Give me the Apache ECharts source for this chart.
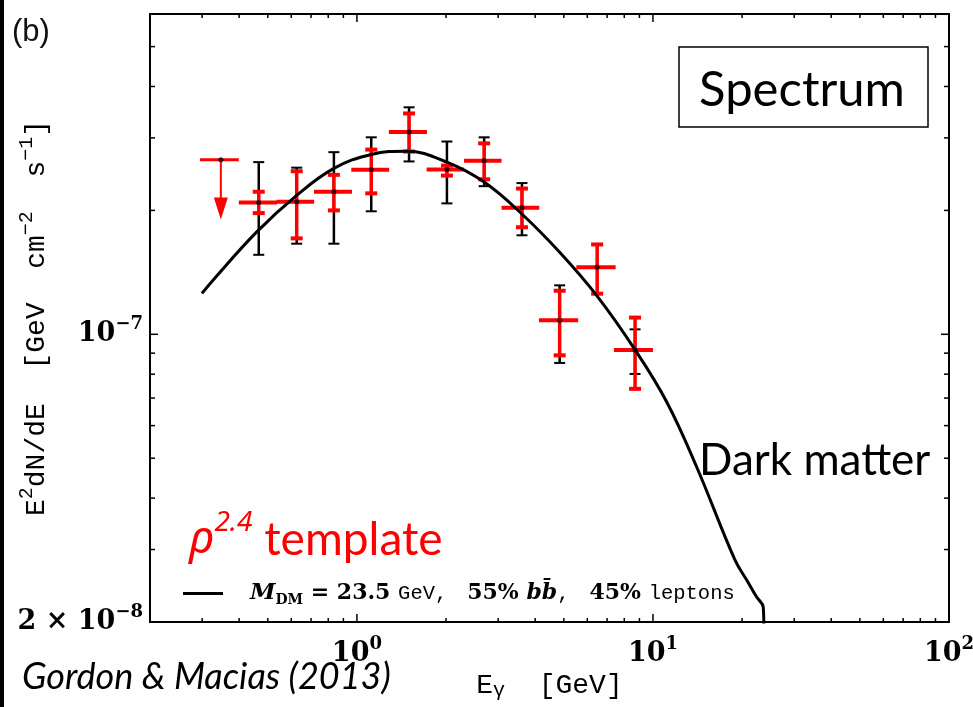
<!DOCTYPE html>
<html>
<head>
<meta charset="utf-8">
<script src="https://cdn.jsdelivr.net/npm/echarts@6/dist/echarts.min.js"></script>
<style>
html, body { margin: 0; padding: 0; background: #fff; }
#main { width: 973px; height: 707px; }
</style>
</head>
<body>
<div id="main"></div>
<script>
// measured points, E [GeV] and E^2 dN/dE [GeV cm^-2 s^-1]
var ptE = [0.466, 0.626, 0.836, 1.118, 1.50, 2.014, 2.69, 3.61, 4.84, 6.48, 8.70];
var ptFlux = [2.09e-7, 2.10e-7, 2.22e-7, 2.51e-7, 3.10e-7, 2.515e-7, 2.64e-7, 2.03e-7, 1.081e-7, 1.455e-7, 9.16e-8];
// energy bins (red horizontal bars)
var binLo = [0.399, 0.535, 0.716, 0.957, 1.282, 1.72, 2.30, 3.08, 4.12, 5.51, 7.38];
var binHi = [0.537, 0.717, 0.962, 1.285, 1.724, 2.304, 3.08, 4.13, 5.59, 7.48, 10.0];
// red error bars
var redLo = [1.97e-7, 1.71e-7, 2.00e-7, 2.20e-7, 2.78e-7, 2.43e-7, 2.38e-7, 1.82e-7, 8.89e-8, 1.255e-7, 7.37e-8];
var redHi = [2.22e-7, 2.49e-7, 2.44e-7, 2.81e-7, 3.44e-7, 2.57e-7, 2.91e-7, 2.26e-7, 1.276e-7, 1.653e-7, 1.098e-7];
// black error bars
var blackLo = [1.56e-7, 1.66e-7, 1.66e-7, 1.99e-7, 2.63e-7, 2.08e-7, 2.29e-7, 1.74e-7, 8.52e-8, 1.255e-7, 8.01e-8];
var blackHi = [2.62e-7, 2.54e-7, 2.77e-7, 3.01e-7, 3.56e-7, 2.94e-7, 3.01e-7, 2.33e-7, 1.315e-7, 1.653e-7, 1.028e-7];

// upper limit in the first bin
var ulE = [0.347];
var ulFlux = [2.655e-7];
var ulBinLo = [0.295];
var ulBinHi = [0.399];
var ulTip = [1.90e-7];

// dark matter model curve
var dmE = [0.2995, 0.326, 0.458, 0.626, 0.836, 1.118, 1.472, 2.014, 2.69, 3.60, 4.85, 6.45, 8.69, 11.13, 14.05, 18.92, 20.73, 22.4, 23.59, 23.7];
var dmFlux = [1.257e-7, 1.352e-7, 1.771e-7, 2.175e-7, 2.529e-7, 2.735e-7, 2.786e-7, 2.62e-7, 2.343e-7, 1.963e-7, 1.58e-7, 1.243e-7, 9.18e-8, 6.85e-8, 4.76e-8, 2.83e-8, 2.53e-8, 2.30e-8, 2.17e-8, 1.9e-8];

// axes
var xMin = 0.2, xMax = 100;
var yMin = 2e-8, yMax = 6e-7;
var xTicks = [0.3, 0.4, 0.5, 0.6, 0.7, 0.8, 0.9, 1, 2, 3, 4, 5, 6, 7, 8, 9, 10, 20, 30, 40, 50, 60, 70, 80, 90];
var xMajor = [1, 10];
var yTicks = [3e-8, 4e-8, 5e-8, 6e-8, 7e-8, 8e-8, 9e-8, 1e-7, 2e-7, 3e-7, 4e-7, 5e-7];
var yMajor = [1e-7];
var xLabelVals = [1, 10, 100];
var xLabelExp = ['0', '1', '2'];
var yLabelVals = [1e-7, 2e-8];
var yLabelPre = ['', '2 \u00d7 '];
var yLabelExp = ['\u22127', '\u22128'];

var serif = '"DejaVu Serif", serif';
var mono = '"Liberation Mono", monospace';
var sans = 'Lato, "Open Sans", sans-serif';

var chart = echarts.init(document.getElementById('main'));

var tickStyle = { stroke: '#000', lineWidth: 1.5 };

function renderXTick(params, api) {
	var cs = params.coordSys;
	var x = api.coord([api.value(0), yMin])[0];
	var len = api.value(2) ? 8 : 4;
	return {
		type : 'group',
		children : [
			{ type : 'line', shape : { x1 : x, y1 : cs.y + cs.height, x2 : x, y2 : cs.y + cs.height - len }, style : tickStyle },
			{ type : 'line', shape : { x1 : x, y1 : cs.y, x2 : x, y2 : cs.y + len }, style : tickStyle }
		]
	};
}

function renderYTick(params, api) {
	var cs = params.coordSys;
	var y = api.coord([xMin, api.value(1)])[1];
	var len = api.value(2) ? 8 : 5;
	return {
		type : 'group',
		children : [
			{ type : 'line', shape : { x1 : cs.x, y1 : y, x2 : cs.x + len, y2 : y }, style : tickStyle },
			{ type : 'line', shape : { x1 : cs.x + cs.width, y1 : y, x2 : cs.x + cs.width - len, y2 : y }, style : tickStyle }
		]
	};
}

var labelRich = {
	b : { fontFamily : serif, fontWeight : 'bold', fontSize : 27, lineHeight : 32, verticalAlign : 'bottom', fill : '#000' },
	s : { fontFamily : serif, fontWeight : 'bold', fontSize : 18, lineHeight : 16, verticalAlign : 'top', fill : '#000' }
};

function renderXLabel(params, api) {
	var i = params.dataIndex;
	var p = api.coord([xLabelVals[i], yMin]);
	return {
		type : 'text',
		x : p[0],
		y : p[1] + 13,
		style : { text : '{b|10}{s|' + xLabelExp[i] + '}', rich : labelRich, align : 'center', verticalAlign : 'top' }
	};
}

function renderYLabel(params, api) {
	var i = params.dataIndex;
	var p = api.coord([xMin, yLabelVals[i]]);
	return {
		type : 'text',
		x : p[0] - 7,
		y : p[1] - 3,
		style : { text : '{b|' + yLabelPre[i] + '10}{s|' + yLabelExp[i] + '}', rich : labelRich, align : 'right', verticalAlign : 'middle' }
	};
}

function renderBlack(params, api) {
	var lo = api.coord([api.value(0), api.value(1)]);
	var hi = api.coord([api.value(0), api.value(2)]);
	var x = lo[0];
	var st = { stroke : '#000', lineWidth : 2.5 };
	return {
		type : 'group',
		children : [
			{ type : 'line', shape : { x1 : x, y1 : hi[1], x2 : x, y2 : lo[1] }, style : st },
			{ type : 'line', shape : { x1 : x - 5.5, y1 : hi[1], x2 : x + 5.5, y2 : hi[1] }, style : { stroke : '#000', lineWidth : 2 } },
			{ type : 'line', shape : { x1 : x - 5.5, y1 : lo[1], x2 : x + 5.5, y2 : lo[1] }, style : { stroke : '#000', lineWidth : 2 } }
		]
	};
}

function renderRed(params, api) {
	var c = api.coord([api.value(0), api.value(1)]);
	var lo = api.coord([api.value(0), api.value(2)]);
	var hi = api.coord([api.value(0), api.value(3)]);
	var l = api.coord([api.value(4), api.value(1)]);
	var r = api.coord([api.value(5), api.value(1)]);
	var st = { stroke : '#ff0000', lineWidth : 4 };
	return {
		type : 'group',
		children : [
			{ type : 'line', shape : { x1 : l[0], y1 : c[1], x2 : r[0], y2 : c[1] }, style : st },
			{ type : 'line', shape : { x1 : c[0], y1 : hi[1], x2 : c[0], y2 : lo[1] }, style : { stroke : '#ff0000', lineWidth : 3.5 } },
			{ type : 'line', shape : { x1 : c[0] - 6, y1 : hi[1], x2 : c[0] + 6, y2 : hi[1] }, style : st },
			{ type : 'line', shape : { x1 : c[0] - 6, y1 : lo[1], x2 : c[0] + 6, y2 : lo[1] }, style : st }
		]
	};
}

function renderLimit(params, api) {
	var c = api.coord([api.value(0), api.value(1)]);
	var l = api.coord([api.value(2), api.value(1)]);
	var r = api.coord([api.value(3), api.value(1)]);
	var tip = api.coord([api.value(0), api.value(4)]);
	return {
		type : 'group',
		children : [
			{ type : 'line', shape : { x1 : l[0], y1 : c[1], x2 : r[0], y2 : c[1] }, style : { stroke : '#ff0000', lineWidth : 3 } },
			{ type : 'line', shape : { x1 : c[0], y1 : c[1], x2 : c[0], y2 : tip[1] - 20 }, style : { stroke : '#ff0000', lineWidth : 2 } },
			{ type : 'polygon', shape : { points : [ [ c[0] - 7, tip[1] - 22 ], [ c[0] + 7, tip[1] - 22 ], [ c[0], tip[1] ] ] }, style : { fill : '#ff0000' } }
		]
	};
}

var dots = [];
for (var i = 0; i < ptE.length; i++) {
	dots.push([ ptE[i], ptFlux[i] ]);
}
dots.push([ ulE[0], ulFlux[0] ]);

var option = {
	animation : false,
	backgroundColor : '#fff',
	grid : {
		left : 150,
		top : 14,
		width : 799,
		height : 608,
		show : true,
		borderColor : '#000',
		borderWidth : 2,
		backgroundColor : 'transparent'
	},
	legend : {
		left : 178,
		top : 577,
		itemWidth : 40,
		itemHeight : 3,
		data : [ { name : 'dm', icon : 'rect' } ],
		formatter : function() {
			return '{sp|}{m|M}{sub|DM}{r| = 23.5 }{t|GeV, }{r| 55% }{bi|b}{bi|b\u0304}{t|, }{r| 45% }{t|leptons}';
		},
		textStyle : {
			rich : {
				sp : { width : 22 },
				m : { fontFamily : serif, fontWeight : 'bold', fontStyle : 'italic', fontSize : 23, lineHeight : 28, verticalAlign : 'middle', color : '#000' },
				sub : { fontFamily : serif, fontWeight : 'bold', fontSize : 14, lineHeight : 10, verticalAlign : 'bottom', color : '#000' },
				r : { fontFamily : serif, fontWeight : 'bold', fontSize : 22, lineHeight : 28, verticalAlign : 'middle', color : '#000' },
				bi : { fontFamily : serif, fontWeight : 'bold', fontStyle : 'italic', fontSize : 22, lineHeight : 28, verticalAlign : 'middle', color : '#000' },
				t : { fontFamily : mono, fontSize : 20.5, lineHeight : 28, verticalAlign : 'middle', color : '#000' }
			}
		}
	},
	xAxis : {
		type : 'log',
		logBase : 10,
		min : xMin,
		max : xMax,
		axisLine : { show : false },
		axisTick : { show : false },
		axisLabel : { show : false },
		splitLine : { show : false },
		name : '{t|E}{sub|\u03b3}{t|  [GeV]}',
		nameLocation : 'middle',
		nameGap : 49,
		nameTextStyle : {
			rich : {
				t : { fontFamily : mono, fontSize : 28, lineHeight : 30, verticalAlign : 'middle', color : '#000' },
				sub : { fontFamily : mono, fontSize : 20, lineHeight : 14, verticalAlign : 'bottom', color : '#000' }
			}
		}
	},
	yAxis : {
		type : 'log',
		logBase : 10,
		min : yMin,
		max : yMax,
		axisLine : { show : false },
		axisTick : { show : false },
		axisLabel : { show : false },
		splitLine : { show : false },
		name : '{t|E}{sup|2}{t|dN/dE  [GeV  cm}{sup|\u22122}{t|  s}{sup|\u22121}{t|]}',
		nameLocation : 'middle',
		nameRotate : 90,
		nameGap : 99,
		nameTextStyle : {
			rich : {
				t : { fontFamily : mono, fontSize : 28, lineHeight : 34, verticalAlign : 'bottom', color : '#000' },
				sup : { fontFamily : mono, fontSize : 20, lineHeight : 16, verticalAlign : 'top', color : '#000' }
			}
		}
	},
	graphic : [
		{ type : 'rect', shape : { x : 0, y : 0, width : 4, height : 707 }, style : { fill : '#000' } },
		{ type : 'text', x : 12, y : 32, style : { text : '(b)', font : '31px "Liberation Sans", sans-serif', fill : '#111', verticalAlign : 'middle' } },
		{ type : 'rect', shape : { x : 679, y : 47, width : 249, height : 80 }, style : { fill : 'none', stroke : '#000', lineWidth : 1.5 } },
		{ type : 'text', x : 802, y : 90, style : { text : 'Spectrum', font : '49px ' + sans, fill : '#000', align : 'center', verticalAlign : 'middle' } },
		{ type : 'text', x : 699, y : 461, style : { text : 'Dark matter', font : '44px ' + sans, fill : '#000', verticalAlign : 'middle' } },
		{
			type : 'text', x : 189, y : 536,
			style : {
				text : '{rho|\u03c1}{sup|2.4}{t| template}',
				verticalAlign : 'middle',
				rich : {
					rho : { fontFamily : '"Noto Sans", sans-serif', fontStyle : 'italic', fontSize : 46, lineHeight : 54, verticalAlign : 'bottom', fill : '#ff0000' },
					sup : { fontFamily : '"Noto Sans", sans-serif', fontStyle : 'italic', fontSize : 28, lineHeight : 28, verticalAlign : 'top', fill : '#ff0000' },
					t : { fontFamily : sans, fontSize : 46, lineHeight : 54, verticalAlign : 'bottom', fill : '#ff0000' }
				}
			}
		},
		{ type : 'text', x : 22, y : 677, style : { text : 'Gordon & Macias (2013)', font : 'italic 36px ' + sans, fill : '#000', verticalAlign : 'middle' } }
	],
	series : [
		{
			type : 'custom',
			silent : true,
			renderItem : renderXTick,
			data : xTicks.map(function(v) { return [ v, yMin, xMajor.indexOf(v) >= 0 ? 1 : 0 ]; }),
			z : 1
		},
		{
			type : 'custom',
			silent : true,
			renderItem : renderYTick,
			data : yTicks.map(function(v) { return [ xMin, v, yMajor.indexOf(v) >= 0 ? 1 : 0 ]; }),
			z : 1
		},
		{
			type : 'custom',
			silent : true,
			renderItem : renderXLabel,
			data : xLabelVals.map(function(v) { return [ v, yMin ]; }),
			z : 1
		},
		{
			type : 'custom',
			silent : true,
			renderItem : renderYLabel,
			data : yLabelVals.map(function(v) { return [ xMin, v ]; }),
			z : 1
		},
		{
			type : 'custom',
			silent : true,
			renderItem : renderBlack,
			data : ptE.map(function(e, i) { return [ e, blackLo[i], blackHi[i] ]; }),
			z : 2
		},
		{
			type : 'custom',
			silent : true,
			renderItem : renderRed,
			data : ptE.map(function(e, i) { return [ e, ptFlux[i], redLo[i], redHi[i], binLo[i], binHi[i] ]; }),
			z : 3
		},
		{
			type : 'custom',
			silent : true,
			renderItem : renderLimit,
			data : ulE.map(function(e, i) { return [ e, ulFlux[i], ulBinLo[i], ulBinHi[i], ulTip[i] ]; }),
			z : 3
		},
		{
			name : 'dm',
			type : 'line',
			silent : true,
			data : dmE.map(function(e, i) { return [ e, dmFlux[i] ]; }),
			symbol : 'none',
			smooth : 0.4,
			clip : true,
			lineStyle : { color : '#000', width : 3 },
			itemStyle : { color : '#000' },
			z : 4
		},
		{
			type : 'scatter',
			silent : true,
			data : dots,
			symbolSize : 5,
			itemStyle : { color : '#000' },
			z : 5
		}
	]
};

chart.setOption(option);
</script>
</body>
</html>
